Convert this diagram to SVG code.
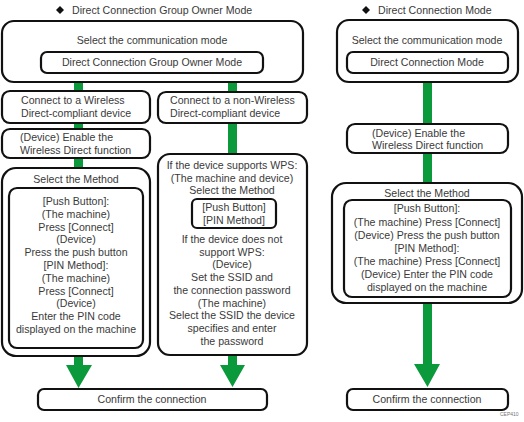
<svg xmlns="http://www.w3.org/2000/svg" width="524" height="422" viewBox="0 0 524 422">
<style>
.b{fill:#fff;stroke:#111;stroke-width:2.2}
.t{font-family:"Liberation Sans",Arial,sans-serif;font-size:10.6px;fill:#3a3a3a}
.c{text-anchor:middle}
.g{fill:#0a9a3c}
.sm{font-family:"Liberation Sans",Arial,sans-serif;font-size:5px;fill:#777}
</style>
<rect width="524" height="422" fill="#fff"/>
<g id="connectors">
<rect class="g" x="74" y="82" width="9" height="10"/>
<rect class="g" x="228" y="82" width="9" height="10"/>
<rect class="g" x="74" y="122" width="9" height="8"/>
<rect class="g" x="74" y="157" width="9" height="12"/>
<rect class="g" x="228" y="122" width="9" height="33"/>
<polygon class="g" points="74,355 83,355 83,365 92,365 78.5,388 66,365 74,365"/>
<polygon class="g" points="228,354 237,354 237,365 245,365 232.5,387 220,365 228,365"/>
<rect class="g" x="423" y="82" width="9" height="43"/>
<rect class="g" x="423" y="152" width="9" height="32"/>
<polygon class="g" points="423,302 432,302 432,364 440,364 427.5,387 414,364 423,364"/>
</g>
<g id="title-left">
<polygon points="60,6 64,10 60,14 56,10" fill="#111"/>
<text class="t" x="72" y="14">Direct Connection Group Owner Mode</text>
</g>
<g id="title-right">
<polygon points="366,6 370,10 366,14 362,10" fill="#111"/>
<text class="t" x="378" y="14">Direct Connection Mode</text>
</g>
<g id="select-mode-left">
<rect class="b" x="2" y="21" width="301" height="61" rx="12"/>
<text class="t c" x="152" y="44">Select the communication mode</text>
<rect class="b" x="41" y="52" width="222" height="21" rx="6"/>
<text class="t c" x="152" y="66">Direct Connection Group Owner Mode</text>
</g>
<g id="connect-wd">
<rect class="b" x="2" y="91" width="148" height="32" rx="8"/>
<text class="t" x="21" y="104">Connect to a Wireless</text>
<text class="t" x="21" y="117">Direct-compliant device</text>
</g>
<g id="enable-left">
<rect class="b" x="2" y="129" width="148" height="29" rx="8"/>
<text class="t" x="20" y="141">(Device) Enable the</text>
<text class="t" x="20" y="154">Wireless Direct function</text>
</g>
<g id="method-left">
<rect class="b" x="2" y="168" width="148" height="188" rx="14"/>
<text class="t c" x="76" y="183">Select the Method</text>
<rect class="b" x="9" y="188" width="134" height="160" rx="8"/>
<text class="t c" x="76" y="205">[Push Button]:</text>
<text class="t c" x="76" y="218">(The machine)</text>
<text class="t c" x="76" y="231">Press [Connect]</text>
<text class="t c" x="76" y="243">(Device)</text>
<text class="t c" x="76" y="256">Press the push button</text>
<text class="t c" x="76" y="269">[PIN Method]:</text>
<text class="t c" x="76" y="282">(The machine)</text>
<text class="t c" x="76" y="295">Press [Connect]</text>
<text class="t c" x="76" y="307">(Device)</text>
<text class="t c" x="76" y="320">Enter the PIN code</text>
<text class="t c" x="76" y="333">displayed on the machine</text>
</g>
<g id="connect-nonwd">
<rect class="b" x="158" y="92" width="149" height="31" rx="8"/>
<text class="t" x="170" y="104">Connect to a non-Wireless</text>
<text class="t" x="170" y="117">Direct-compliant device</text>
</g>
<g id="wps">
<rect class="b" x="158" y="154" width="149" height="201" rx="12"/>
<text class="t c" x="232" y="169">If the device supports WPS:</text>
<text class="t c" x="232" y="182">(The machine and device)</text>
<text class="t c" x="232" y="194">Select the Method</text>
<rect class="b" x="192" y="199" width="84" height="29" rx="5"/>
<text class="t c" x="234" y="211">[Push Button]</text>
<text class="t c" x="234" y="224">[PIN Method]</text>
<text class="t c" x="232" y="243">If the device does not</text>
<text class="t c" x="232" y="256">support WPS:</text>
<text class="t c" x="232" y="268">(Device)</text>
<text class="t c" x="232" y="281">Set the SSID and</text>
<text class="t c" x="232" y="294">the connection password</text>
<text class="t c" x="232" y="307">(The machine)</text>
<text class="t c" x="232" y="319">Select the SSID the device</text>
<text class="t c" x="232" y="332">specifies and enter</text>
<text class="t c" x="232" y="345">the password</text>
</g>
<g id="confirm-left">
<rect class="b" x="38" y="389" width="229" height="21" rx="6"/>
<text class="t c" x="152" y="403">Confirm the connection</text>
</g>
<g id="select-mode-right">
<rect class="b" x="337" y="20" width="181" height="62" rx="12"/>
<text class="t c" x="427" y="44">Select the communication mode</text>
<rect class="b" x="347" y="52" width="161" height="21" rx="6"/>
<text class="t c" x="427" y="66">Direct Connection Mode</text>
</g>
<g id="enable-right">
<rect class="b" x="347" y="124" width="161" height="29" rx="8"/>
<text class="t" x="372" y="137">(Device) Enable the</text>
<text class="t" x="372" y="149">Wireless Direct function</text>
</g>
<g id="method-right">
<rect class="b" x="332" y="183" width="190" height="120" rx="14"/>
<text class="t c" x="427" y="197">Select the Method</text>
<rect class="b" x="344" y="200" width="167" height="97" rx="8"/>
<text class="t c" x="427" y="212">[Push Button]:</text>
<text class="t c" x="427" y="226">(The machine) Press [Connect]</text>
<text class="t c" x="427" y="239">(Device) Press the push button</text>
<text class="t c" x="427" y="252">[PIN Method]:</text>
<text class="t c" x="427" y="265">(The machine) Press [Connect]</text>
<text class="t c" x="427" y="278">(Device) Enter the PIN code</text>
<text class="t c" x="427" y="291">displayed on the machine</text>
</g>
<g id="confirm-right">
<rect class="b" x="347" y="389" width="161" height="21" rx="6"/>
<text class="t c" x="427" y="403">Confirm the connection</text>
</g>
<text class="sm" x="500" y="416">CEP410</text>
</svg>
